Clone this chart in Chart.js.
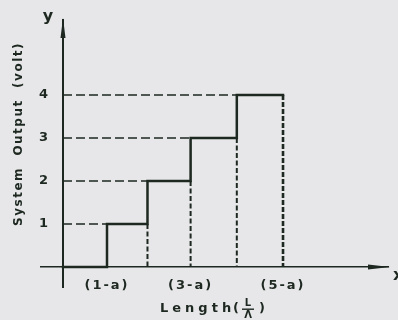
<!DOCTYPE html>
<html>
<head>
<meta charset="utf-8">
<script src="https://cdn.jsdelivr.net/npm/chart.js@4"></script>
<style>
  html, body { margin: 0; padding: 0; background: #e7e7e9; }
  #wrap { width: 398px; height: 320px; }
</style>
</head>
<body>
<div id="wrap"><canvas id="chart" width="398" height="320"></canvas></div>
<script>
// staircase: edges where the output jumps, and the level reached at each edge
const stepEdges = [1, 1.92, 2.9, 3.95, 5];
const stepLevels = [1, 2, 3, 4];
const yTicks = [1, 2, 3, 4];
const xTickValues = [1, 2.9, 5];
const xTickLabels = ['(1-a)', '(3-a)', '(5-a)'];

const ink = '#1d2820';

// solid outline of the steps
const stairs = [{ x: 0, y: 0 }, { x: stepEdges[0], y: 0 }];
stepLevels.forEach((lv, i) => {
    stairs.push({ x: stepEdges[i], y: lv });
    stairs.push({ x: stepEdges[i + 1], y: lv });
});

// dashed drops from the end of each tread back to the axis
const drops = [];
stepLevels.forEach((lv, i) => {
    drops.push({ x: stepEdges[i + 1], y: lv });
    drops.push({ x: stepEdges[i + 1], y: 0 });
    drops.push({ x: stepEdges[i + 1], y: null });
});
const lastDrop = drops.splice(drops.length - 3, 3);

// dashed guides from the y axis to each step
const guides = [];
stepLevels.forEach((lv, i) => {
    guides.push({ x: 0, y: lv });
    guides.push({ x: stepEdges[i], y: lv });
    guides.push({ x: 0, y: null });
});

const decorations = {
    id: 'decorations',
    beforeDraw(chart) {
        chart.ctx.letterSpacing = '2px';
    },
    afterDraw(chart) {
        const ctx = chart.ctx;
        const xs = chart.scales.x, ys = chart.scales.y;
        const x0 = xs.getPixelForValue(0), y0 = ys.getPixelForValue(0);
        const top = chart.chartArea.top, right = chart.chartArea.right;
        ctx.save();
        ctx.fillStyle = ink;
        // arrow heads
        ctx.beginPath();
        ctx.moveTo(x0, top - 2);
        ctx.lineTo(x0 - 2.5, top + 18);
        ctx.lineTo(x0 + 2.5, top + 18);
        ctx.closePath();
        ctx.fill();
        ctx.beginPath();
        ctx.moveTo(right + 2, y0);
        ctx.lineTo(right - 20, y0 - 2.5);
        ctx.lineTo(right - 20, y0 + 2.5);
        ctx.closePath();
        ctx.fill();

        // axis letters
        ctx.letterSpacing = '0px';
        ctx.font = 'bold 16px "DejaVu Sans"';
        ctx.textAlign = 'center';
        ctx.textBaseline = 'middle';
        ctx.fillText('y', 48, 17);
        ctx.textAlign = 'left';
        ctx.fillText('x', 393, 276);

        // y title
        ctx.font = 'bold 12px "DejaVu Sans"';
        ctx.letterSpacing = '1.5px';
        ctx.save();
        ctx.translate(19, 134);
        ctx.rotate(-Math.PI / 2);
        ctx.textAlign = 'center';
        ctx.fillText('System  Output  (volt)', 0, 0);
        ctx.restore();

        // x title with L over Λ
        ctx.letterSpacing = '4px';
        ctx.font = 'bold 13px "DejaVu Sans"';
        ctx.textAlign = 'left';
        ctx.fillText('Length', 160, 309);
        ctx.fillText('(', 233, 309);
        ctx.letterSpacing = '0px';
        ctx.font = 'bold 10px "DejaVu Sans"';
        ctx.textAlign = 'center';
        ctx.fillText('L', 248, 303);
        ctx.fillText('Λ', 248, 315);
        ctx.fillRect(242, 308.5, 12, 1.4);
        ctx.font = 'bold 13px "DejaVu Sans"';
        ctx.textAlign = 'left';
        ctx.fillText(')', 259, 309);
        ctx.restore();
    }
};

new Chart(document.getElementById('chart'), {
    type: 'line',
    data: {
        datasets: [
            {
                data: guides,
                borderColor: ink,
                borderWidth: 1.4,
                borderDash: [9, 4],
                spanGaps: false
            },
            {
                data: drops,
                borderColor: ink,
                borderWidth: 2,
                borderDash: [5, 2.5],
                spanGaps: false
            },
            {
                data: lastDrop,
                borderColor: ink,
                borderWidth: 2.6,
                borderDash: [5, 2],
                spanGaps: false
            },
            {
                data: stairs,
                borderColor: ink,
                borderWidth: 2.5,
                borderCapStyle: 'square'
            }
        ]
    },
    options: {
        responsive: false,
        animation: false,
        parsing: false,
        elements: {
            point: { radius: 0 },
            line: { tension: 0, fill: false }
        },
        layout: { padding: { left: 41, right: 10, top: 20, bottom: 33 } },
        plugins: {
            legend: { display: false },
            tooltip: { enabled: false }
        },
        scales: {
            x: {
                type: 'linear',
                position: { y: 0 },
                min: -0.5,
                max: 7.386,
                grid: { display: false, drawTicks: false },
                border: { display: true, color: ink, width: 1.4 },
                afterBuildTicks: (axis) => {
                    axis.ticks = xTickValues.map(v => ({ value: v }));
                },
                ticks: {
                    autoSkip: false,
                    maxRotation: 0,
                    padding: 11,
                    color: ink,
                    font: { family: 'DejaVu Sans', size: 13, weight: 'bold' },
                    callback: (value, index) => xTickLabels[index]
                }
            },
            y: {
                type: 'linear',
                position: { x: 0 },
                min: -0.465,
                max: 5.744,
                grid: { display: false, drawTicks: false },
                border: { display: true, color: ink, width: 2 },
                afterBuildTicks: (axis) => {
                    axis.ticks = yTicks.map(v => ({ value: v }));
                },
                ticks: {
                    padding: 0,
                    color: ink,
                    font: { family: 'DejaVu Sans', size: 13, weight: 'bold' },
                    // a centred axis ignores tick padding, so pad with spaces
                    callback: (value) => value + '  '
                }
            }
        }
    },
    plugins: [decorations]
});
</script>
</body>
</html>
